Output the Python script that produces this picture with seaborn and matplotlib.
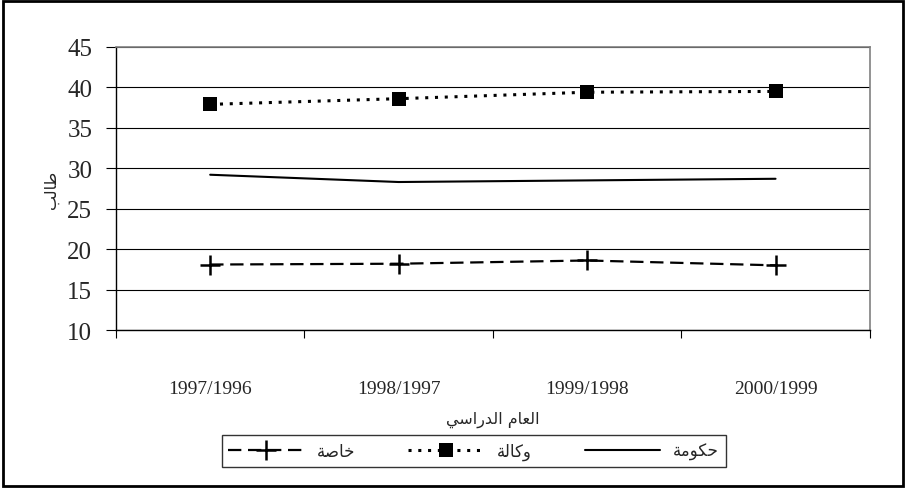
import matplotlib
matplotlib.use("Agg")
import matplotlib.pyplot as plt
import seaborn as sns
import pandas as pd
from matplotlib.patches import Rectangle

# data
years = ["1997/1996", "1998/1997", "1999/1998", "2000/1999"]
hukuma = [29.2, 28.3, 28.5, 28.7]    # حكومة
wakala = [37.9, 38.6, 39.4, 39.5]    # وكالة
khassa = [18.1, 18.2, 18.6, 18.0]    # خاصة
yticks = [10, 15, 20, 25, 30, 35, 40, 45]

# minimal arabic shaping (matplotlib does not join or reverse arabic)
FORMS = {
    "ا": ("\uFE8D", "\uFE8E", None, None),
    "ب": ("\uFE8F", "\uFE90", "\uFE91", "\uFE92"),
    "ة": ("\uFE93", "\uFE94", None, None),
    "ح": ("\uFEA1", "\uFEA2", "\uFEA3", "\uFEA4"),
    "خ": ("\uFEA5", "\uFEA6", "\uFEA7", "\uFEA8"),
    "د": ("\uFEA9", "\uFEAA", None, None),
    "ر": ("\uFEAD", "\uFEAE", None, None),
    "س": ("\uFEB1", "\uFEB2", "\uFEB3", "\uFEB4"),
    "ص": ("\uFEB9", "\uFEBA", "\uFEBB", "\uFEBC"),
    "ط": ("\uFEC1", "\uFEC2", "\uFEC3", "\uFEC4"),
    "ع": ("\uFEC9", "\uFECA", "\uFECB", "\uFECC"),
    "ك": ("\uFED9", "\uFEDA", "\uFEDB", "\uFEDC"),
    "ل": ("\uFEDD", "\uFEDE", "\uFEDF", "\uFEE0"),
    "م": ("\uFEE1", "\uFEE2", "\uFEE3", "\uFEE4"),
    "و": ("\uFEED", "\uFEEE", None, None),
    "ي": ("\uFEF1", "\uFEF2", "\uFEF3", "\uFEF4"),
}


def ar(s):
    out = []
    for i, c in enumerate(s):
        if c not in FORMS:
            out.append(c)
            continue
        f = FORMS[c]
        prev = i > 0 and s[i - 1] in FORMS and FORMS[s[i - 1]][2] is not None
        nxt = f[2] is not None and i + 1 < len(s) and s[i + 1] in FORMS
        if prev and nxt:
            out.append(f[3])
        elif prev:
            out.append(f[1])
        elif nxt:
            out.append(f[2])
        else:
            out.append(f[0])
    return "".join(out[::-1])


df = pd.DataFrame({"x": range(len(years)), "hukuma": hukuma,
                   "wakala": wakala, "khassa": khassa})

sns.set_theme(style="white")
plt.rcParams["font.family"] = ["DejaVu Sans"]

fig = plt.figure(figsize=(9.06, 4.89), dpi=100)
ax = fig.add_axes([0.128, 0.323, 0.832, 0.579])

sns.lineplot(data=df, x="x", y="khassa", ax=ax, color="black", lw=1.6,
             linestyle=(0, (6, 3)), marker="+", markersize=14, mew=1.8,
             mec="black", label=ar("خاصة"))
sns.lineplot(data=df, x="x", y="wakala", ax=ax, color="black", lw=2.2,
             linestyle=(0, (1, 2.2)), marker="s", markersize=10, mew=0,
             mec="black", label=ar("وكالة"))
sns.lineplot(data=df, x="x", y="hukuma", ax=ax, color="black", lw=1.5,
             linestyle="-", label=ar("حكومة"))

ax.set_xlim(-0.5, len(years) - 0.5)
ax.set_ylim(10, 45)
ax.set_yticks(yticks)
ax.set_yticklabels([str(v) for v in yticks], family="Liberation Serif", fontsize=18)
ax.yaxis.grid(True, color="black", lw=0.8)
ax.set_axisbelow(True)

ax.set_xticks([i - 0.5 for i in range(len(years) + 1)])
ax.set_xticklabels([])
ax.set_xticks(range(len(years)), minor=True)
ax.set_xticklabels(years, minor=True, family="Liberation Serif", fontsize=14)
ax.tick_params(axis="x", which="major", direction="out", length=6, width=0.8,
               color="black", bottom=True)
ax.tick_params(axis="x", which="minor", length=0, pad=36)
ax.tick_params(axis="y", direction="out", length=7, width=0.8,
               color="black", left=True, pad=10)

for side in ["left", "bottom"]:
    ax.spines[side].set_color("black")
    ax.spines[side].set_linewidth(1)
for side in ["top", "right"]:
    ax.spines[side].set_color("#808080")
    ax.spines[side].set_linewidth(1.2)

ax.set_xlabel(ar("العام الدراسي"), fontsize=11.5, labelpad=10)
ax.set_ylabel(ar("طالب"), fontsize=11.5, labelpad=6)

ax.legend_.remove()
handles, labels = ax.get_legend_handles_labels()
leg = fig.legend(handles, labels, loc="center", ncol=3,
                 bbox_to_anchor=(0.523, 0.076), frameon=True, fancybox=False,
                 edgecolor="black", fontsize=12, handlelength=4.5,
                 columnspacing=3.2, borderpad=0.4)
leg.get_frame().set_linewidth(1)

fig.patches.append(Rectangle((0.003, 0.004), 0.994, 0.992, transform=fig.transFigure,
                             fill=False, edgecolor="black", lw=2))

fig.savefig("out.png", dpi=100)
